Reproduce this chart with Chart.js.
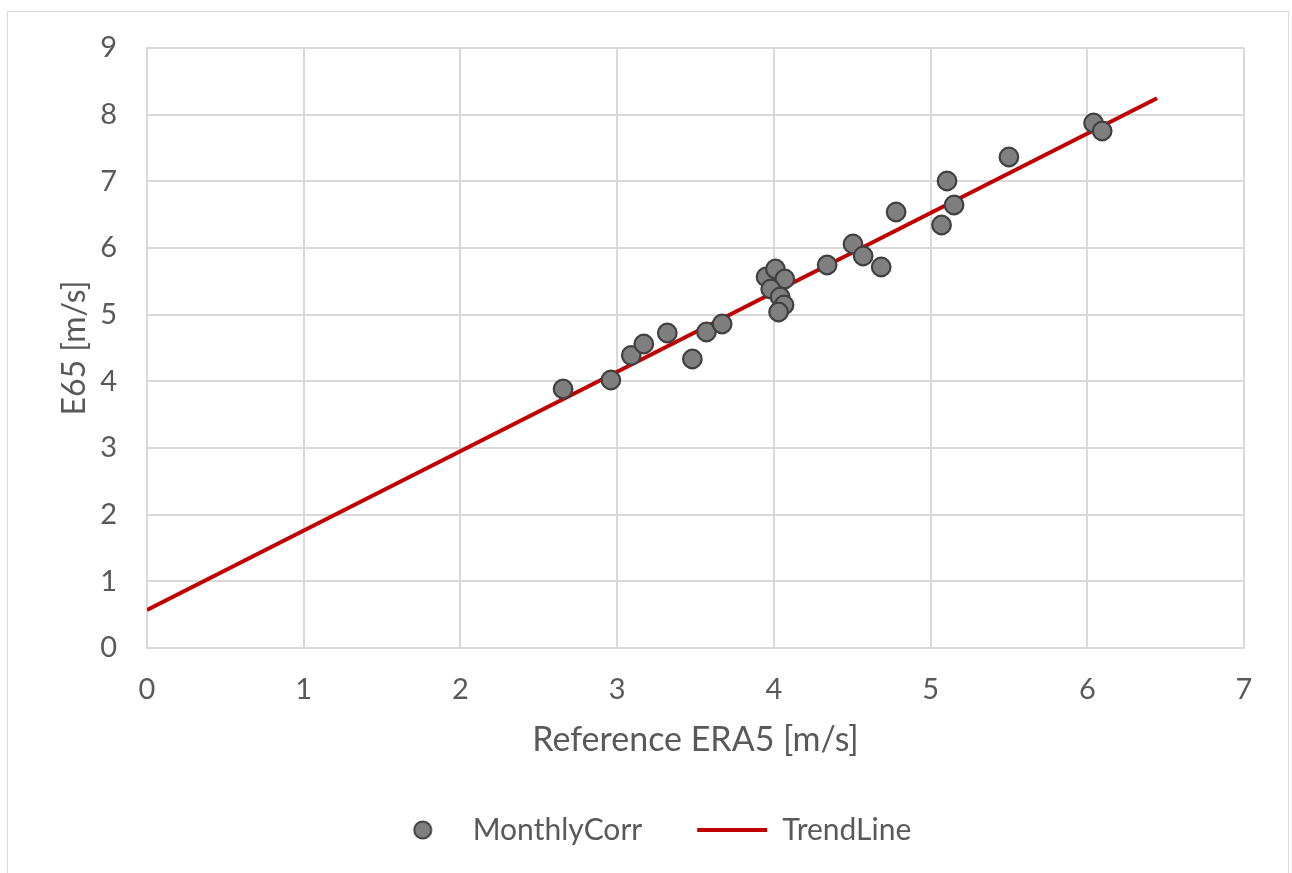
<!DOCTYPE html>
<html>
<head>
<meta charset="utf-8">
<script src="https://cdn.jsdelivr.net/npm/chart.js@4.4.1/dist/chart.umd.min.js"></script>
<style>
  html, body { margin:0; padding:0; background:#fff; overflow:hidden; }
  #frame { position:absolute; left:7px; top:11px; width:1282px; height:900px; border:1.5px solid #d9d9d9; box-sizing:border-box; }
  #chart { position:absolute; left:0; top:0; }
</style>
</head>
<body>
<div id="frame"></div>
<canvas id="chart" width="1292" height="873"></canvas>
<script>
/* Dados */
const eraX = [2.655, 2.96, 3.09, 3.17, 3.32, 3.48, 3.57, 3.67, 3.95, 4.01, 4.07, 3.98, 4.04, 4.065, 4.03,
              4.34, 4.505, 4.57, 4.685, 4.78, 5.07, 5.105, 5.15, 5.50, 6.04, 6.095];
const e65Y = [3.885, 4.02, 4.39, 4.56, 4.725, 4.335, 4.74, 4.86, 5.565, 5.685, 5.535, 5.385, 5.265, 5.145, 5.04,
              5.745, 6.06, 5.88, 5.715, 6.54, 6.345, 7.005, 6.645, 7.365, 7.875, 7.755];
const trendX = [0, 6.445];
const trendY = [0.57, 8.245];
const xTicks = [0, 1, 2, 3, 4, 5, 6, 7];
const yTicks = [0, 1, 2, 3, 4, 5, 6, 7, 8, 9];

const TXT = '#595959';
const GRID = '#d9d9d9';
const FONT = 'Lato, "Noto Sans", sans-serif';
const PT_FILL = '#7f7f7f', PT_EDGE = '#404040';

const pts = eraX.map((x, i) => ({ x, y: e65Y[i] }));
const trend = trendX.map((x, i) => ({ x, y: trendY[i] }));

// ícone da legenda (círculo) – não é esticado pelo pointStyleWidth
const dot = document.createElement('canvas');
dot.width = 22; dot.height = 22;
(function(){
  const c = dot.getContext('2d');
  c.beginPath(); c.arc(11, 11, 8.5, 0, Math.PI * 2);
  c.fillStyle = PT_FILL; c.fill();
  c.lineWidth = 2; c.strokeStyle = PT_EDGE; c.stroke();
})();

new Chart(document.getElementById('chart'), {
  type: 'scatter',
  data: {
    datasets: [
      {
        label: 'MonthlyCorr',
        data: pts,
        backgroundColor: PT_FILL,
        borderColor: PT_EDGE,
        borderWidth: 2.2,
        pointRadius: 9.3,
        pointStyle: 'circle'
      },
      {
        label: 'TrendLine',
        type: 'line',
        data: trend,
        borderColor: '#c00000',
        backgroundColor: '#c00000',
        borderWidth: 4,
        pointRadius: 0,
        pointStyle: 'line',
        fill: false
      }
    ]
  },
  options: {
    responsive: false,
    animation: false,
    devicePixelRatio: 1,
    layout: { padding: { left: 55, top: 48, right: 48, bottom: 18 } },
    plugins: {
      tooltip: { enabled: false },
      legend: {
        position: 'bottom',
        labels: {
          color: TXT,
          font: { family: FONT, size: 30 },
          usePointStyle: true,
          pointStyleWidth: 70,
          boxHeight: 13,
          padding: 55,
          generateLabels: chart => Chart.defaults.plugins.legend.labels.generateLabels(chart)
            .map(l => (l.datasetIndex === 0 ? { ...l, pointStyle: dot } : l))
        }
      }
    },
    scales: {
      x: {
        type: 'linear',
        min: 0, max: 7,
        afterBuildTicks: s => { s.ticks = xTicks.map(v => ({ value: v })); },
        afterFit: s => { s.height = 112; },
        grid: { color: GRID, lineWidth: 2, drawTicks: false },
        border: { color: GRID, width: 2 },
        ticks: { color: TXT, font: { family: FONT, size: 29 }, padding: 24 },
        title: { display: true, text: 'Reference ERA5 [m/s]', color: TXT, font: { family: FONT, size: 34 }, padding: 0 }
      },
      y: {
        type: 'linear',
        min: 0, max: 9,
        afterBuildTicks: s => { s.ticks = yTicks.map(v => ({ value: v })); },
        afterFit: s => { s.width = 92; },
        grid: { color: GRID, lineWidth: 2, drawTicks: false },
        border: { color: GRID, width: 2 },
        ticks: { color: TXT, font: { family: FONT, size: 29 }, padding: 30 },
        title: { display: true, text: 'E65 [m/s]', color: TXT, font: { family: FONT, size: 32 }, padding: 0 }
      }
    }
  }
});
</script>
</body>
</html>
